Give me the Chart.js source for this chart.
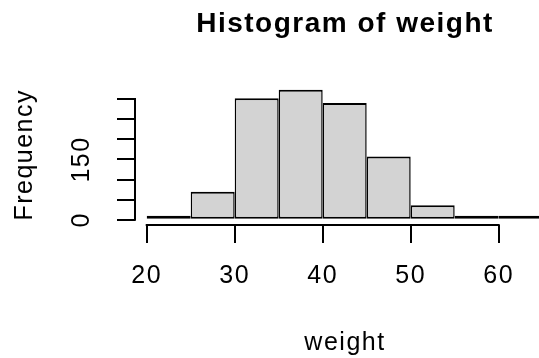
<!DOCTYPE html>
<html>
<head>
<meta charset="utf-8">
<script src="https://cdn.jsdelivr.net/npm/chart.js@4.4.1/dist/chart.umd.min.js"></script>
<style>
  html, body { margin: 0; padding: 0; background: #fff; overflow: hidden; }
  #frame { width: 539px; height: 358px; overflow: hidden; }
</style>
</head>
<body>
<div id="frame"><canvas id="hist" width="555" height="358"></canvas></div>
<script>
// histogram bins: left edges, 5 units wide, and the count in each bin
var binStarts = [20, 25, 30, 35, 40, 45, 50, 55, 60]
var binWidth = 5
var counts = [3, 70, 302, 323, 290, 157, 36, 3, 2]

// axis ticks, only some of the y ticks carry a label
var xTicks = [20, 30, 40, 50, 60]
var yTicks = [0, 50, 100, 150, 200, 250, 300]
var yLabeled = [0, 150]

var FAMILY = 'Liberation Sans, Arial, sans-serif'
var labelFont = { family: FAMILY, size: 25 }

// y range padded 4% each side, like base graphics
var yMax = Math.max.apply(null, counts)
var yPad = yMax * 0.04

// slightly looser text
var spacing = {
  id: 'spacing',
  beforeLayout(chart) { chart.ctx.letterSpacing = '1.5px' },
  beforeDraw(chart) { chart.ctx.letterSpacing = '1.5px' }
}

// axis lines run from first to last tick only
var axisLines = {
  id: 'axisLines',
  afterDraw(chart) {
    var c = chart.ctx, x = chart.scales.x, y = chart.scales.y, a = chart.chartArea
    c.save()
    c.strokeStyle = '#000'
    c.lineWidth = 2
    c.beginPath()
    c.moveTo(x.getPixelForValue(xTicks[0]) - 1, a.bottom)
    c.lineTo(x.getPixelForValue(xTicks[xTicks.length - 1]) + 1, a.bottom)
    c.moveTo(a.left, y.getPixelForValue(yTicks[0]) + 1)
    c.lineTo(a.left, y.getPixelForValue(yTicks[yTicks.length - 1]) - 1)
    c.stroke()
    c.restore()
  }
}

new Chart(document.getElementById('hist'), {
  type: 'bar',
  data: {
    datasets: [{
      data: binStarts.map((s, i) => ({ x: s + binWidth / 2, y: counts[i] })),
      backgroundColor: '#d3d3d3',
      borderColor: '#000',
      borderWidth: { top: 2, bottom: 2, left: 1.5, right: 1.5 },
      borderSkipped: false,
      inflateAmount: 0,
      barPercentage: 1,
      categoryPercentage: 1,
      minBarLength: 4,
    }],
  },
  options: {
    responsive: false,
    animation: false,
    plugins: {
      legend: { display: false },
      tooltip: { enabled: false },
      title: {
        display: true,
        text: 'Histogram of weight',
        fullSize: false,
        color: '#000',
        font: { family: FAMILY, size: 28, weight: 'bold' },
        padding: { top: 7, bottom: 44 },
      },
    },
    scales: {
      x: {
        type: 'linear',
        min: 18.67,
        max: 66.4,
        offset: false,
        afterBuildTicks: (s) => { s.ticks = xTicks.map(v => ({ value: v })) },
        afterFit: (s) => { s.height = 133 },
        grid: { offset: false, drawOnChartArea: false, tickLength: 18, color: '#000', lineWidth: 2 },
        border: { display: false },
        ticks: { color: '#000', font: labelFont, padding: 18, autoSkip: false, maxRotation: 0 },
        title: { display: true, text: 'weight', color: '#000', font: labelFont, padding: { top: 0, bottom: 0 } },
      },
      y: {
        min: -yPad,
        max: yMax + yPad,
        afterBuildTicks: (s) => { s.ticks = yTicks.map(v => ({ value: v })) },
        afterFit: (s) => { s.width = 135 },
        grid: { drawOnChartArea: false, tickLength: 18, color: '#000', lineWidth: 2 },
        border: { display: false },
        ticks: {
          color: '#000', font: labelFont, autoSkip: false,
          minRotation: 90, maxRotation: 90, crossAlign: 'center', padding: 12,
          callback: (v) => yLabeled.includes(v) ? String(v) : '',
        },
        title: { display: true, text: 'Frequency', color: '#000', font: labelFont, padding: { top: 10, bottom: 0 } },
      },
    },
  },
  plugins: [spacing, axisLines],
})
</script>
</body>
</html>
